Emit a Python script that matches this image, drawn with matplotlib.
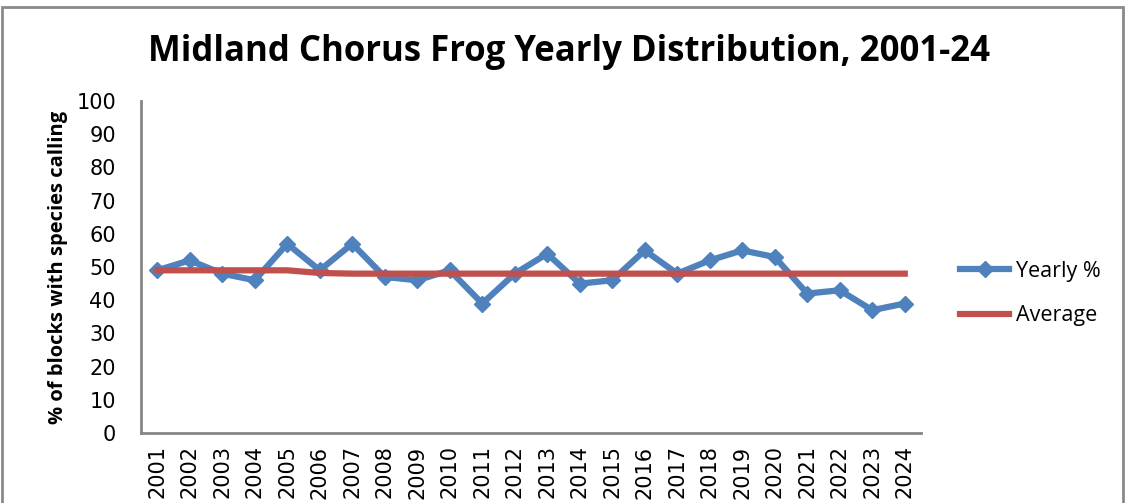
import matplotlib
matplotlib.use("Agg")
import matplotlib.pyplot as plt
from matplotlib.patches import Rectangle

years = [str(y) for y in range(2001, 2025)]
yearly_pct = [49, 52, 48, 46, 57, 49, 57, 47, 46, 49, 39, 48,
              54, 45, 46, 55, 48, 52, 55, 53, 42, 43, 37, 39]
average = [49, 49, 49, 49, 49, 48.2, 48, 48, 48, 48, 48, 48,
           48, 48, 48, 48, 48, 48, 48, 48, 48, 48, 48, 48]

blue = '#4f81bd'
red = '#c0504d'

fig = plt.figure(figsize=(11.26, 5.03), dpi=100)
ax = fig.add_axes([141 / 1126, 70 / 503, 780 / 1126, 332 / 503])

x = range(len(years))
ax.plot(x, yearly_pct, color=blue, linewidth=4.5, marker='D', markersize=8,
        label='Yearly %')
ax.plot(x, average, color=red, linewidth=4.5, label='Average')

ax.set_xlim(-0.5, len(years) - 0.5)
ax.set_ylim(0, 100)
ax.set_yticks(range(0, 101, 10))
ax.set_xticks(list(x))
ax.set_xticklabels(years, rotation=90)
ax.tick_params(axis='x', length=0, labelsize=15, pad=9)
ax.tick_params(axis='y', length=0, labelsize=15, pad=18)

for side in ['top', 'right']:
    ax.spines[side].set_visible(False)
for side in ['left', 'bottom']:
    ax.spines[side].set_color('#868686')
    ax.spines[side].set_linewidth(2)

ax.set_ylabel('% of blocks with species calling', fontsize=14.5,
              fontweight='bold', family='Open Sans', labelpad=6)

fig.text(0.505, 0.897, 'Midland Chorus Frog Yearly Distribution, 2001-24',
         ha='center', va='center', fontsize=25, fontweight='bold',
         family='Open Sans')

ax.legend(loc='center left', bbox_to_anchor=(1.025, 0.42), frameon=False,
          prop={'family': 'Open Sans', 'size': 15.5},
          handlelength=2.3, handletextpad=0.3, labelspacing=1.1)

# chart border
fig.patches.append(Rectangle((2 / 1126, -0.05), 1121 / 1126, 1.05 - 7 / 503,
                             transform=fig.transFigure, fill=False,
                             edgecolor='#8a8a8a', linewidth=2))

fig.savefig('out.png', dpi=100)
